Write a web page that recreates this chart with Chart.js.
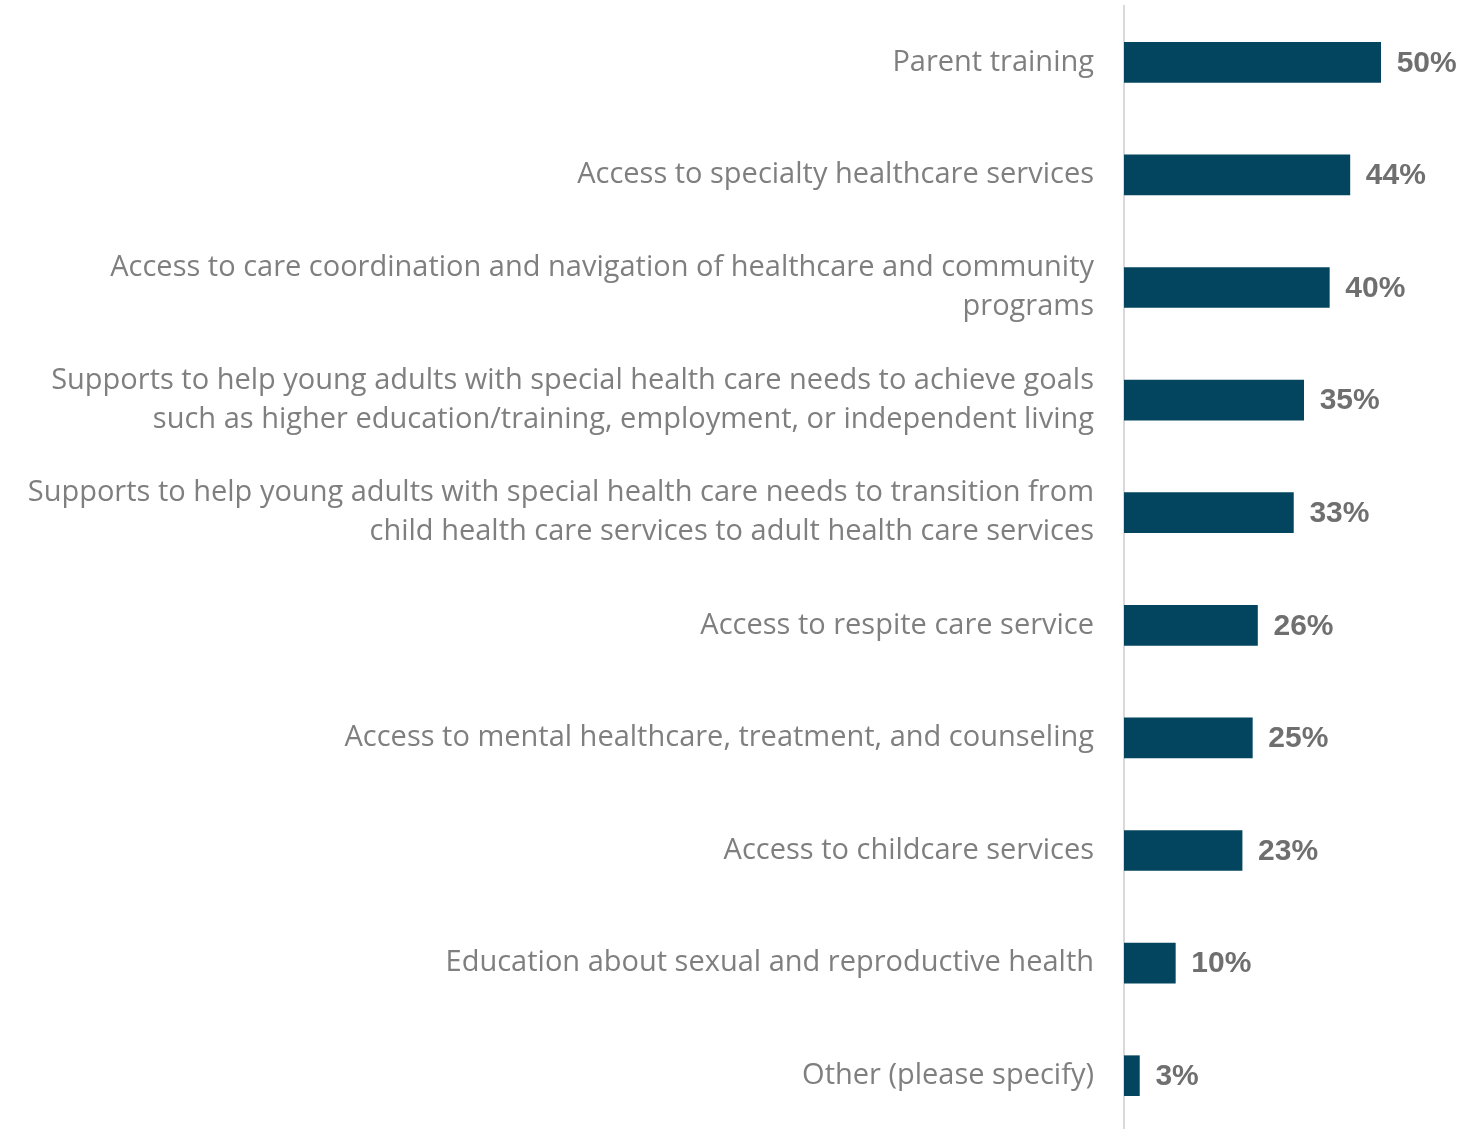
<!DOCTYPE html>
<html>
<head>
<meta charset="utf-8">
<script src="https://cdn.jsdelivr.net/npm/chart.js@4.4.1/dist/chart.umd.min.js"></script>
<style>
  html, body { margin: 0; padding: 0; background: #ffffff; overflow: hidden; }
  #wrap { position: relative; width: 1463px; height: 1132px; }
</style>
</head>
<body>
<div id="wrap"><canvas id="chart"></canvas></div>
<script>
// Services needed (share of respondents, %)
const categories = [
  ["Parent training"],
  ["Access to specialty healthcare services"],
  ["Access to care coordination and navigation of healthcare and community", "programs"],
  ["Supports to help young adults with special health care needs to achieve goals", "such as higher education/training, employment, or independent living"],
  ["Supports to help young adults with special health care needs to transition from", "child health care services to adult health care services"],
  ["Access to respite care service"],
  ["Access to mental healthcare, treatment, and counseling"],
  ["Access to childcare services"],
  ["Education about sexual and reproductive health"],
  ["Other (please specify)"]
];
const percentages = [50, 44, 40, 35, 33, 26, 25, 23, 10, 3];

// Writes "NN%" to the right of each bar
const valueLabels = {
  id: 'valueLabels',
  afterDatasetsDraw(chart) {
    const ctx = chart.ctx;
    const meta = chart.getDatasetMeta(0);
    ctx.save();
    ctx.font = 'bold 30px "Liberation Sans", Arial, sans-serif';
    ctx.fillStyle = '#6f6f6f';
    ctx.textAlign = 'left';
    ctx.textBaseline = 'middle';
    meta.data.forEach((bar, i) => {
      ctx.fillText(percentages[i] + '%', bar.x + 16, bar.y + 1);
    });
    ctx.restore();
  }
};

new Chart(document.getElementById('chart'), {
  type: 'bar',
  data: {
    labels: categories,
    datasets: [{
      data: percentages,
      backgroundColor: '#03445e',
      borderWidth: 0,
      barThickness: 40
    }]
  },
  options: {
    indexAxis: 'y',
    responsive: true,
    maintainAspectRatio: false,
    animation: false,
    layout: { padding: { top: 6, right: 31, bottom: 0, left: 0 } },
    plugins: { legend: { display: false }, tooltip: { enabled: false } },
    scales: {
      x: {
        display: false,
        min: 0,
        max: 60
      },
      y: {
        afterFit(scale) {
          scale.width = 1124;
          scale.paddingTop = 0;
          scale.paddingBottom = 0;
        },
        grid: { display: false, drawTicks: false },
        border: { display: true, color: '#d9d9d9', width: 2 },
        ticks: {
          padding: 30,
          color: '#7f7f7f',
          font: { family: '"Open Sans", sans-serif', size: 29, lineHeight: 1.345 }
        }
      }
    }
  },
  plugins: [valueLabels]
});
</script>
</body>
</html>
